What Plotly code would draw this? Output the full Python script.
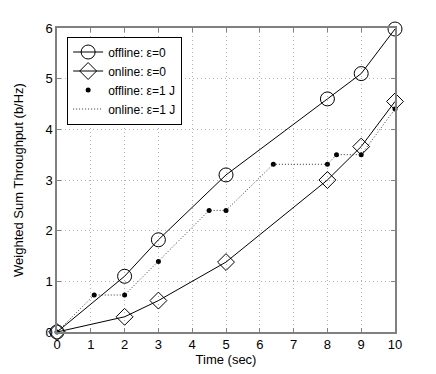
import plotly.graph_objects as go

# Data
t_offline0 = [0, 2, 3, 5, 8, 9, 10]
y_offline0 = [0, 1.10, 1.82, 3.10, 4.60, 5.10, 5.98]

t_online0 = [0, 2, 3, 5, 8, 9, 10]
y_online0 = [0, 0.30, 0.62, 1.38, 3.00, 3.66, 4.55]

t_eps1 = [0, 1.1, 2, 3, 4.5, 5, 6.4, 8, 8.27, 9, 10]
y_offline1 = [0, 0.73, 0.73, 1.39, 2.40, 2.40, 3.31, 3.31, 3.50, 3.50, 4.40]
y_online1 = [0, 0.73, 0.73, 1.39, 2.40, 2.40, 3.31, 3.31, 3.50, 3.50, 4.40]

x_ticks = list(range(0, 11))
y_ticks = list(range(0, 7))

FONT = "Liberation Sans, Arial"

fig = go.Figure()
fig.add_trace(go.Scatter(x=t_offline0, y=y_offline0, mode="lines+markers",
                         name="offline: \u03b5=0",
                         line=dict(color="black", width=1),
                         marker=dict(symbol="circle-open", size=14, color="black",
                                     line=dict(width=1, color="black"))))
fig.add_trace(go.Scatter(x=t_online0, y=y_online0, mode="lines+markers",
                         name="online: \u03b5=0",
                         line=dict(color="black", width=1),
                         marker=dict(symbol="diamond-open", size=13, color="black",
                                     line=dict(width=1, color="black"))))
fig.add_trace(go.Scatter(x=t_eps1, y=y_offline1, mode="markers",
                         name="offline: \u03b5=1 J",
                         marker=dict(symbol="circle", size=5, color="black")))
fig.add_trace(go.Scatter(x=t_eps1, y=y_online1, mode="lines",
                         name="online: \u03b5=1 J",
                         line=dict(color="#333333", width=1, dash="1px,2px")))

for tr in fig.data:
    tr.cliponaxis = False

axis_common = dict(
    showgrid=True, gridcolor="#b4b4b4", griddash="1px,3px", gridwidth=1,
    showline=True, linecolor="#808080", linewidth=1.5, mirror="ticks",
    ticks="inside", ticklen=4, tickcolor="#808080",
    zeroline=False, automargin=False,
    tickfont=dict(family=FONT, size=13, color="black"),
    title_font=dict(family=FONT, size=13, color="black"),
)

fig.update_xaxes(range=[0, 10], tickvals=x_ticks, title_text="Time (sec)",
                 title_standoff=0, **axis_common)
fig.update_yaxes(range=[0, 6], tickvals=y_ticks,
                 title_text="Weighted Sum Throughput (b/Hz)",
                 title_standoff=19, **axis_common)

fig.update_layout(
    width=428, height=366,
    margin=dict(l=49, r=41, t=20, b=42),
    paper_bgcolor="white", plot_bgcolor="white",
    font=dict(family=FONT, size=12, color="black"),
    showlegend=True,
    legend=dict(x=0.03, y=0.972, xanchor="left", yanchor="top",
                bgcolor="white", bordercolor="black", borderwidth=1,
                font=dict(family=FONT, size=12, color="black"),
                tracegroupgap=0, itemwidth=30),
)

fig.write_html("out.html")
